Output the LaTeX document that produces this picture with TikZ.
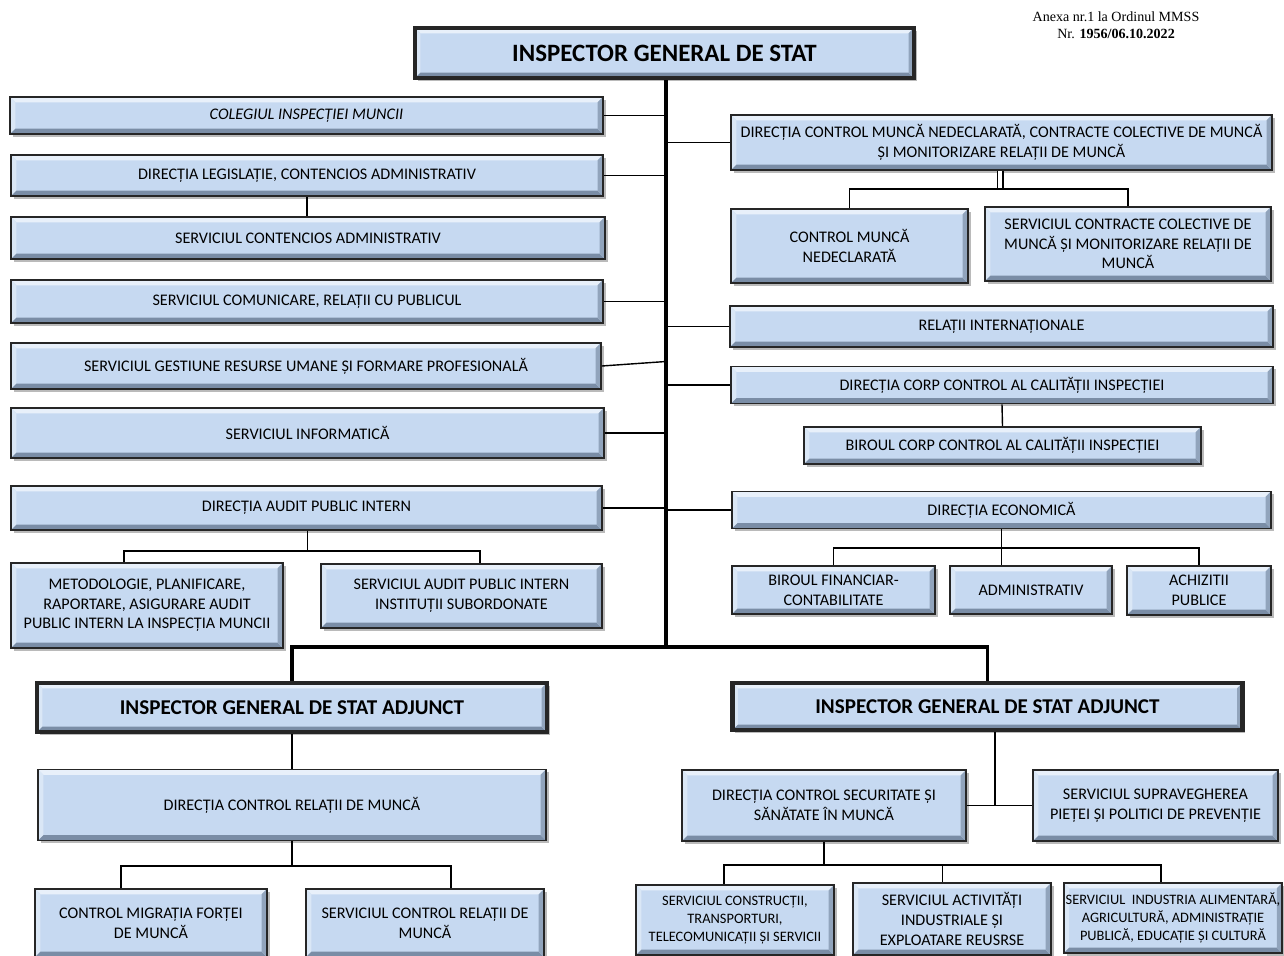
\documentclass[tikz,border=0pt]{standalone}
\usepackage{fontspec}
\setmainfont{Carlito}
\newfontfamily\anexafont{Liberation Serif}
\usetikzlibrary{shadows}
\definecolor{boxblue}{HTML}{C6D9F1}
\definecolor{bevlight}{HTML}{E8F0FA}
\definecolor{bevdark}{HTML}{7A8DA6}

\begin{document}
\begin{tikzpicture}[x=0.02cm,y=-0.02cm]
\tikzstyle{every node}+=[inner sep=1pt]
\tikzstyle{unit}=[draw=black!85,line width=1pt,fill=boxblue,align=center,
  font=\fontsize{9.2}{11.2}\selectfont,
  drop shadow={shadow xshift=1.6pt,shadow yshift=-1.6pt,fill=black!60,opacity=.45},
  path picture={
    \coordinate (pa) at (path picture bounding box.north west);
    \coordinate (pb) at (path picture bounding box.south east);
    \fill[bevlight] (pa) -- (pa -| pb) -- ++(-3pt,-3pt) -- ([shift={(3pt,-3pt)}]pa) -- cycle;
    \fill[bevlight!60!boxblue] (pa) -- (pa |- pb) -- ++(3pt,3pt) -- ([shift={(3pt,-3pt)}]pa) -- cycle;
    \fill[bevdark] (pb) -- (pa |- pb) -- ++(3pt,3pt) -- ([shift={(-3pt,3pt)}]pb) -- cycle;
    \fill[bevdark!70!boxblue] (pb) -- (pb |- pa) -- ++(-3pt,-3pt) -- ([shift={(-3pt,3pt)}]pb) -- cycle;
  }]
\tikzstyle{chief}=[unit,line width=2.4pt,font=\bfseries\fontsize{14.2}{16}\selectfont]
\tikzstyle{deputy}=[chief,font=\bfseries\fontsize{12}{14}\selectfont]
\tikzstyle{small}=[font=\fontsize{8.2}{10.2}\selectfont]
\tikzstyle{link}=[line width=0.8pt]
\tikzstyle{trunk}=[line width=2.2pt]
\useasboundingbox (0,0) rectangle (1284,956);
\clip (0,0) rectangle (1284,956);

\node[align=center,inner sep=0pt,font=\anexafont\fontsize{8}{9.8}\selectfont] (anexa) at (1116,25.5)
  {Anexa nr.1 la Ordinul MMSS\\Nr. \textbf{1956/06.10.2022}};

\node[chief,minimum width=9.98cm,minimum height=1cm] (igs) at (664.5,53) {INSPECTOR GENERAL DE STAT};

\node[unit,minimum width=11.86cm,minimum height=0.74cm] (col) at (306.5,115.5) {\itshape COLEGIUL INSPECȚIEI MUNCII};
\node[unit,minimum width=11.84cm,minimum height=0.82cm] (dlca) at (307,175.5) {DIRECȚIA LEGISLAȚIE, CONTENCIOS ADMINISTRATIV};
\node[unit,minimum width=11.88cm,minimum height=0.84cm] (sca) at (308,238) {SERVICIUL CONTENCIOS ADMINISTRATIV};
\node[unit,minimum width=11.84cm,minimum height=0.86cm] (scrp) at (307,301.5) {SERVICIUL COMUNICARE, RELAȚII CU PUBLICUL};
\node[unit,minimum width=11.8cm,minimum height=0.92cm] (sgru) at (306,366) {SERVICIUL GESTIUNE RESURSE UMANE ȘI FORMARE PROFESIONALĂ};
\node[unit,minimum width=11.86cm,minimum height=1cm] (sinf) at (307.5,433) {SERVICIUL INFORMATICĂ};
\node[unit,minimum width=11.82cm,minimum height=0.88cm] (dapi) at (306.5,508) {DIRECȚIA AUDIT PUBLIC INTERN};
\node[unit,minimum width=5.44cm,minimum height=1.7cm] (metod) at (147,605.5)
  {METODOLOGIE, PLANIFICARE,\\RAPORTARE, ASIGURARE AUDIT\\PUBLIC INTERN LA INSPECȚIA MUNCII};
\node[unit,minimum width=5.62cm,minimum height=1.28cm] (sapi) at (461.5,596)
  {SERVICIUL AUDIT PUBLIC INTERN\\INSTITUȚII SUBORDONATE};

\node[unit,minimum width=10.82cm,minimum height=1.1cm] (dcmn) at (1001.5,142.5)
  {DIRECȚIA CONTROL MUNCĂ NEDECLARATĂ, CONTRACTE COLECTIVE DE MUNCĂ\\ȘI MONITORIZARE RELAȚII DE MUNCĂ};
\node[unit,minimum width=4.74cm,minimum height=1.48cm] (cmn) at (849.5,246) {CONTROL MUNCĂ\\NEDECLARATĂ};
\node[unit,minimum width=5.72cm,minimum height=1.48cm] (sccm) at (1128,244)
  {SERVICIUL CONTRACTE COLECTIVE DE\\MUNCĂ ȘI MONITORIZARE RELAȚII DE\\MUNCĂ};
\node[unit,minimum width=10.86cm,minimum height=0.82cm] (ri) at (1001.5,326.5) {RELAȚII INTERNAȚIONALE};
\node[unit,minimum width=10.84cm,minimum height=0.74cm] (dccc) at (1002,385) {DIRECȚIA CORP CONTROL AL CALITĂȚII INSPECȚIEI};
\node[unit,minimum width=7.94cm,minimum height=0.74cm] (bccc) at (1002.5,445.5) {BIROUL CORP CONTROL AL CALITĂȚII INSPECȚIEI};
\node[unit,minimum width=10.78cm,minimum height=0.74cm] (dec) at (1001.5,510) {DIRECȚIA ECONOMICĂ};
\node[unit,minimum width=4.06cm,minimum height=0.96cm] (bfc) at (833.5,590) {BIROUL FINANCIAR-\\CONTABILITATE};
\node[unit,minimum width=3.24cm,minimum height=0.96cm] (adm) at (1031,590) {ADMINISTRATIV};
\node[unit,minimum width=2.88cm,minimum height=0.98cm] (ach) at (1199,590.5) {ACHIZITII\\PUBLICE};

\node[deputy,minimum width=10.2cm,minimum height=0.98cm] (adjL) at (292,707.5) {INSPECTOR GENERAL DE STAT ADJUNCT};
\node[deputy,minimum width=10.2cm,minimum height=0.94cm] (adjR) at (987.5,706.5) {INSPECTOR GENERAL DE STAT ADJUNCT};

\node[unit,minimum width=10.16cm,minimum height=1.42cm] (dcrm) at (292,805) {DIRECȚIA CONTROL RELAȚII DE MUNCĂ};
\node[unit,minimum width=4.64cm,minimum height=1.36cm] (cmfm) at (151,923) {CONTROL MIGRAȚIA FORȚEI\\DE MUNCĂ};
\node[unit,minimum width=4.76cm,minimum height=1.36cm] (scrm) at (425,923) {SERVICIUL CONTROL RELAȚII DE\\MUNCĂ};

\node[unit,minimum width=5.68cm,minimum height=1.42cm] (dcss) at (824,805.5) {DIRECȚIA CONTROL SECURITATE ȘI\\SĂNĂTATE ÎN MUNCĂ};
\node[unit,minimum width=4.9cm,minimum height=1.42cm] (sspp) at (1155.5,805.5) {SERVICIUL SUPRAVEGHEREA\\PIEȚEI ȘI POLITICI DE PREVENȚIE};
\node[unit,small,minimum width=3.96cm,minimum height=1.4cm] (scons) at (735,920)
  {SERVICIUL CONSTRUCȚII,\\TRANSPORTURI,\\TELECOMUNICAȚII ȘI SERVICII};
\node[unit,minimum width=3.96cm,minimum height=1.44cm] (sact) at (952,919)
  {SERVICIUL ACTIVITĂȚI\\INDUSTRIALE ȘI\\EXPLOATARE REUSRSE};
\node[unit,small,minimum width=4.2cm,minimum height=1.4cm] (sind) at (1173,918)
  {SERVICIUL\ \ INDUSTRIA ALIMENTARĂ,\\AGRICULTURĂ, ADMINISTRAȚIE\\PUBLICĂ, EDUCAȚIE ȘI CULTURĂ};

\coordinate (split) at (666,647);
\draw[trunk] (igs.south -| split) -- (split);
\draw[trunk] (adjL.north) |- (split) -| (adjR.north);

\foreach \b in {col,dlca,scrp,sinf,dapi}
  \draw[link] (\b.east) -- (\b.east -| split);
\draw[link] (sgru.east) -- ([yshift=0.09cm]sgru.east -| split);
\foreach \b in {dcmn,ri,dccc,dec}
  \draw[link] (\b.west) -- (\b.west -| split);

\draw[link] (dlca.south) -- (dlca.south |- sca.north);
\coordinate (dapiB) at (307.5,551);
\draw[link] (dapi.south -| dapiB) -- (dapiB);
\draw[link] ([xshift=-0.46cm]metod.north) |- (dapiB) -| ([xshift=0.37cm]sapi.north);

\coordinate (dcmnB) at (1000,189);
\draw[link,double,double distance=2.4pt] (dcmn.south -| dcmnB) -- (dcmnB);
\draw[link] (cmn.north) |- (dcmnB) -| (sccm.north);
\draw[link] (dccc.south) -- (bccc.north);
\coordinate (decB) at (1001.5,548);
\draw[link] (dec.south) -- (dec.south |- adm.north);
\draw[link] (bfc.north) |- (decB) -| (ach.north);

\draw[link] (adjL.south) -- (dcrm.north);
\coordinate (dcrmB) at (292,866);
\draw[link,line width=1.1pt] (dcrm.south) -- (dcrmB);
\draw[link] ([xshift=-0.6cm]cmfm.north) |- (dcrmB) -| ([xshift=0.52cm]scrm.north);

\draw[link] ([xshift=0.15cm]adjR.south) -- ([xshift=0.15cm]adjR.south |- dcss.east);
\draw[link] (dcss.east) -- (sspp.west);
\coordinate (dcssB) at (824,865);
\draw[link,line width=1.1pt] (dcss.south) -- (dcssB);
\draw[link] ([xshift=-0.22cm]scons.north) |- (dcssB) -| ([xshift=-0.24cm]sind.north);
\draw[link] ([xshift=-0.19cm]sact.north) -- ([xshift=-0.19cm]sact.north |- dcssB);
\end{tikzpicture}
\end{document}
